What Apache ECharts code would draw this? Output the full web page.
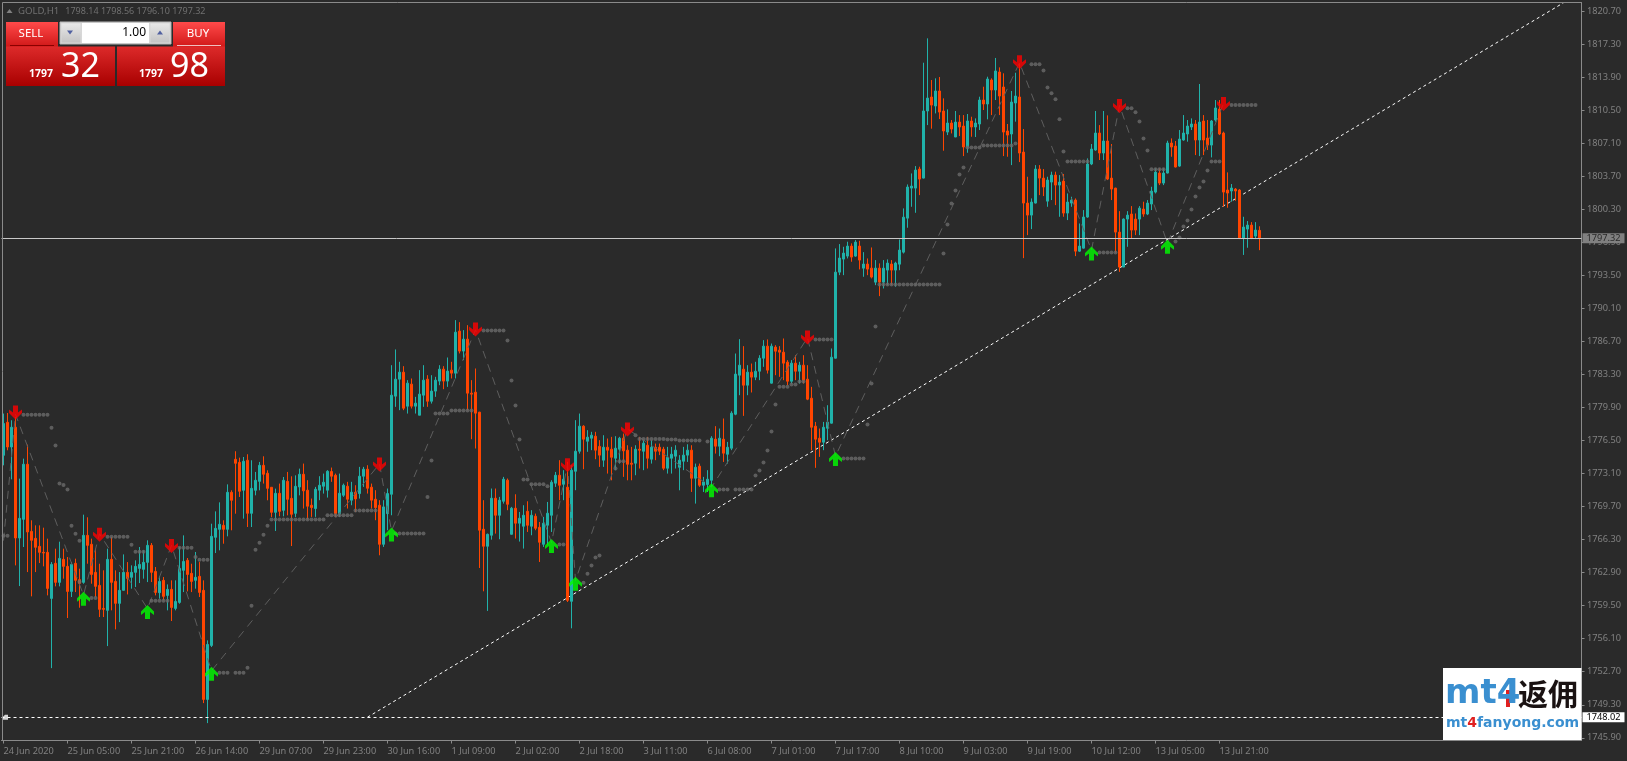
<!DOCTYPE html>
<html>
<head>
<meta charset="utf-8">
<style>html,body{margin:0;padding:0;background:#2a2a2a}#c{width:1627px;height:761px}</style>
<script src="https://cdn.jsdelivr.net/npm/echarts@6/dist/echarts.min.js"></script>
</head>
<body>
<div id="c"></div>
<script>
const xTickLabels = ['24 Jun 2020','25 Jun 05:00','25 Jun 21:00','26 Jun 14:00','29 Jun 07:00','29 Jun 23:00','30 Jun 16:00','1 Jul 09:00','2 Jul 02:00','2 Jul 18:00','3 Jul 11:00','6 Jul 08:00','7 Jul 01:00','7 Jul 17:00','8 Jul 10:00','9 Jul 03:00','9 Jul 19:00','10 Jul 12:00','13 Jul 05:00','13 Jul 21:00'];
const yTickValues = [1745.9,1749.3,1752.7,1756.1,1759.5,1762.9,1766.3,1769.7,1773.1,1776.5,1779.9,1783.3,1786.7,1790.1,1793.5,1796.9,1800.3,1803.7,1807.1,1810.5,1813.9,1817.3,1820.7];
const lastPrice = 1797.32;
const pendingPrice = 1748.02;
// open, close, low, high
const ohlc = [
[1774.98,1778.25,1773.95,1779.28],[1778.38,1775.84,1775.50,1779.34],[1775.84,1777.87,1772.51,1778.59],[1777.87,1766.47,1763.65,1778.93],[1766.47,1768.49,1761.52,1772.58],
[1768.39,1774.06,1765.54,1774.64],[1774.06,1767.09,1762.96,1776.08],[1767.15,1766.23,1760.46,1768.29],[1766.43,1765.51,1762.96,1767.77],[1765.61,1764.99,1763.89,1767.77],
[1764.99,1764.92,1763.55,1767.53],[1764.99,1761.28,1760.56,1766.40],[1760.25,1763.75,1753.07,1763.99],[1763.86,1761.90,1761.49,1765.37],[1761.90,1764.37,1761.49,1766.09],
[1764.27,1763.55,1762.28,1765.37],[1763.55,1760.97,1758.23,1764.51],[1760.97,1763.75,1760.39,1763.99],[1763.86,1762.11,1760.90,1764.34],[1762.18,1761.80,1759.29,1763.31],
[1761.90,1766.74,1761.76,1768.87],[1766.74,1765.71,1763.82,1768.60],[1765.82,1762.72,1761.76,1766.40],[1762.93,1761.49,1760.39,1765.37],[1761.59,1759.12,1758.33,1763.82],
[1759.22,1759.12,1758.33,1763.14],[1759.02,1764.27,1755.34,1765.37],[1764.27,1761.90,1759.02,1766.57],[1762.00,1759.74,1757.06,1763.14],[1759.74,1761.08,1757.81,1762.96],
[1761.08,1762.93,1761.08,1764.78],[1762.93,1762.31,1760.66,1763.99],[1762.42,1762.93,1761.25,1763.65],[1762.93,1763.55,1761.42,1764.17],[1763.34,1763.75,1761.83,1765.54],
[1763.24,1763.96,1762.28,1765.20],[1763.96,1765.71,1761.93,1766.23],[1765.71,1762.93,1761.93,1765.95],[1763.03,1760.87,1760.56,1763.48],[1760.84,1762.00,1760.22,1762.52],
[1762.11,1760.46,1760.05,1762.45],[1760.56,1761.18,1759.02,1761.69],[1761.18,1759.32,1757.92,1762.11],[1759.22,1759.94,1759.02,1762.11],[1759.84,1763.34,1759.70,1765.54],
[1763.14,1764.06,1760.90,1766.74],[1764.17,1762.72,1760.97,1764.41],[1762.83,1762.00,1760.90,1763.82],[1762.11,1762.42,1761.25,1765.03],[1762.52,1760.87,1760.39,1763.99],
[1761.08,1749.85,1749.47,1762.11],[1749.85,1755.51,1747.41,1755.93],[1755.41,1766.64,1755.24,1767.94],[1766.54,1767.46,1764.92,1769.21],[1767.36,1767.88,1765.20,1770.14],
[1767.77,1767.36,1765.88,1768.29],[1767.36,1771.17,1766.64,1771.99],[1771.17,1770.35,1767.26,1771.38],[1774.57,1774.16,1768.97,1775.40],[1774.26,1771.28,1770.69,1774.74],
[1771.38,1774.37,1768.46,1774.81],[1774.47,1769.01,1767.60,1775.09],[1769.01,1771.58,1767.60,1774.47],[1771.38,1772.41,1770.86,1773.27],[1772.30,1773.95,1771.38,1774.30],
[1773.95,1773.03,1772.07,1774.88],[1773.13,1771.58,1770.35,1773.44],[1771.69,1769.11,1768.63,1771.69],[1769.11,1771.07,1767.19,1771.55],[1771.07,1769.21,1768.70,1772.07],
[1769.32,1772.41,1768.70,1772.75],[1772.30,1770.45,1768.80,1773.27],[1770.55,1768.91,1765.64,1772.82],[1769.01,1771.79,1768.63,1772.92],[1771.72,1773.03,1770.86,1773.61],
[1773.03,1771.32,1769.50,1774.13],[1771.39,1769.74,1768.36,1772.42],[1769.84,1769.60,1768.64,1770.53],[1769.50,1771.49,1768.64,1771.73],[1771.39,1771.90,1770.36,1772.83],
[1771.80,1772.21,1771.04,1773.10],[1771.39,1773.34,1770.63,1773.45],[1773.31,1772.83,1772.25,1773.72],[1772.93,1768.98,1768.64,1773.10],[1768.98,1771.08,1768.64,1773.10],
[1770.87,1771.90,1770.70,1772.07],[1771.80,1770.46,1769.50,1772.25],[1770.36,1771.18,1769.84,1772.25],[1771.18,1770.49,1769.15,1771.90],[1771.04,1772.83,1770.53,1773.79],
[1772.83,1773.55,1771.73,1773.79],[1773.55,1771.59,1771.04,1773.96],[1771.70,1770.36,1769.50,1772.07],[1770.46,1769.60,1768.30,1771.39],[1769.84,1765.82,1764.69,1770.36],
[1765.82,1769.67,1765.55,1770.36],[1768.98,1771.04,1767.27,1771.56],[1770.97,1781.17,1768.81,1784.26],[1781.07,1782.82,1779.97,1785.88],[1782.82,1783.54,1779.63,1784.61],
[1783.54,1779.83,1779.63,1784.16],[1780.04,1782.41,1779.28,1782.72],[1782.31,1780.04,1779.80,1782.89],[1780.04,1780.35,1779.28,1781.00],[1779.11,1781.28,1779.11,1783.75],
[1781.17,1782.72,1779.97,1784.26],[1782.82,1780.55,1779.97,1783.23],[1780.55,1781.59,1780.31,1783.23],[1781.59,1782.72,1781.00,1783.06],[1782.62,1783.85,1782.20,1784.26],
[1783.85,1782.62,1781.79,1784.16],[1782.62,1783.65,1782.03,1785.05],[1783.75,1783.44,1782.89,1784.61],[1783.44,1787.66,1782.89,1788.90],[1787.77,1785.71,1785.47,1788.69],
[1785.71,1786.94,1784.78,1787.87],[1786.94,1781.38,1779.63,1788.38],[1781.38,1781.28,1776.64,1782.72],[1781.48,1779.32,1775.68,1783.92],[1779.42,1767.27,1763.38,1779.46],
[1767.37,1765.62,1760.98,1770.36],[1765.62,1766.85,1758.96,1766.92],[1766.75,1770.56,1766.30,1771.56],[1770.56,1768.81,1766.92,1771.56],[1768.81,1770.36,1766.34,1770.70],
[1770.25,1772.52,1770.01,1772.76],[1772.42,1769.94,1769.33,1772.59],[1766.85,1769.53,1766.82,1769.67],[1769.53,1767.99,1766.41,1770.97],[1767.99,1768.50,1766.10,1769.15],
[1767.68,1768.81,1765.38,1769.84],[1769.22,1767.78,1767.09,1770.25],[1767.68,1768.81,1766.75,1769.33],[1768.71,1767.47,1767.27,1768.98],[1767.57,1766.03,1764.00,1768.12],
[1765.82,1767.99,1765.55,1768.64],[1767.78,1769.02,1765.79,1770.18],[1768.81,1772.21,1767.09,1772.42],[1772.11,1772.93,1771.73,1773.27],[1772.93,1771.90,1770.36,1774.48],
[1772.00,1772.52,1770.36,1773.45],[1771.70,1760.05,1759.88,1774.31],[1759.95,1773.45,1757.17,1773.96],[1773.34,1775.40,1771.39,1778.60],[1775.40,1777.98,1775.16,1779.28],
[1777.98,1776.64,1773.55,1778.08],[1776.43,1776.85,1775.34,1777.57],[1776.74,1777.05,1775.51,1777.40],[1776.95,1775.51,1774.58,1777.40],[1775.90,1775.00,1773.79,1776.54],
[1774.48,1775.81,1773.79,1777.05],[1775.81,1775.51,1773.10,1776.71],[1775.61,1774.78,1772.41,1776.88],[1774.68,1775.71,1773.45,1776.95],[1775.61,1776.74,1774.13,1776.88],
[1776.74,1775.44,1772.76,1777.22],[1775.51,1774.06,1772.41,1776.02],[1774.17,1774.06,1772.41,1775.85],[1774.17,1775.61,1772.93,1776.02],[1775.61,1775.51,1773.62,1776.88],
[1775.40,1776.23,1773.45,1776.54],[1776.02,1774.68,1773.62,1776.88],[1774.58,1775.81,1774.13,1776.54],[1775.81,1775.40,1774.48,1776.19],[1775.81,1775.40,1775.00,1776.19],
[1775.61,1773.65,1773.45,1775.85],[1773.65,1774.78,1773.10,1775.85],[1774.68,1775.09,1773.10,1775.85],[1774.89,1775.51,1773.62,1776.02],[1773.75,1774.48,1771.38,1775.00],
[1774.37,1775.00,1773.45,1775.85],[1775.00,1775.51,1774.30,1776.12],[1775.51,1772.62,1771.21,1776.02],[1772.62,1773.75,1770.01,1774.13],[1773.86,1771.90,1771.73,1774.13],
[1771.90,1772.24,1771.21,1772.76],[1771.97,1772.52,1771.21,1773.45],[1772.41,1776.74,1771.73,1776.95],[1776.64,1775.92,1775.16,1777.98],[1775.92,1776.74,1774.89,1777.74],
[1776.64,1775.20,1774.30,1778.77],[1775.09,1775.81,1774.13,1776.36],[1775.71,1779.32,1775.51,1779.52],[1779.21,1783.34,1779.11,1785.46],[1783.23,1784.26,1781.17,1786.94],
[1783.85,1782.20,1779.04,1786.22],[1782.20,1783.54,1781.17,1784.26],[1783.54,1783.03,1781.45,1784.43],[1783.03,1783.64,1782.72,1784.61],[1783.64,1784.98,1782.72,1785.29],
[1784.98,1786.22,1784.09,1786.84],[1786.22,1783.75,1783.40,1786.91],[1782.41,1786.22,1782.37,1786.49],[1786.12,1785.70,1783.23,1786.32],[1785.81,1785.60,1783.06,1786.22],
[1785.60,1784.47,1782.72,1787.01],[1784.57,1782.61,1782.20,1784.78],[1782.61,1784.47,1782.37,1784.78],[1784.47,1783.64,1782.72,1785.29],[1783.64,1784.26,1782.37,1784.61],
[1784.26,1782.72,1782.37,1785.29],[1782.82,1780.76,1780.66,1784.26],[1780.86,1777.87,1775.51,1782.03],[1777.98,1776.64,1773.69,1778.42],[1776.74,1776.33,1774.82,1777.74],
[1776.33,1777.87,1775.51,1778.42],[1777.77,1778.39,1776.54,1780.14],[1778.29,1785.08,1778.25,1785.98],[1784.98,1793.84,1784.95,1796.28],[1793.84,1795.29,1793.53,1796.73],
[1795.18,1795.80,1793.53,1796.45],[1795.49,1796.52,1795.25,1796.97],[1796.52,1795.39,1794.91,1796.80],[1795.49,1796.93,1795.42,1797.14],[1796.52,1795.08,1794.12,1797.07],
[1794.25,1794.67,1793.36,1795.90],[1794.67,1794.15,1793.53,1795.25],[1794.25,1793.33,1793.19,1796.38],[1792.81,1794.25,1792.50,1795.08],[1794.25,1792.81,1791.37,1794.74],
[1792.81,1794.25,1792.16,1795.08],[1794.05,1794.77,1792.50,1795.15],[1794.67,1794.05,1792.50,1795.08],[1794.05,1794.77,1792.33,1794.91],[1794.66,1796.11,1794.04,1797.20],
[1795.90,1799.50,1795.76,1800.40],[1799.40,1802.60,1798.41,1802.87],[1802.49,1802.70,1800.57,1804.00],[1802.49,1804.35,1799.95,1804.76],[1804.45,1803.42,1801.77,1804.69],
[1803.52,1810.43,1803.49,1815.40],[1810.43,1811.76,1808.98,1817.91],[1811.87,1811.04,1808.61,1813.62],[1810.94,1812.49,1810.18,1813.79],[1812.49,1810.32,1809.60,1813.93],
[1810.43,1808.37,1806.34,1811.73],[1808.26,1809.19,1807.95,1810.60],[1809.19,1808.57,1808.12,1809.50],[1807.75,1809.29,1807.75,1810.43],[1809.29,1808.78,1807.85,1810.01],
[1808.88,1806.72,1805.79,1810.01],[1806.72,1809.40,1806.13,1810.12],[1809.40,1808.78,1807.78,1809.84],[1808.78,1809.19,1807.75,1809.67],[1809.09,1811.56,1808.47,1811.90],
[1811.56,1811.15,1810.53,1812.93],[1811.15,1813.72,1809.57,1813.96],[1813.62,1812.59,1810.01,1813.79],[1812.59,1814.55,1811.56,1815.89],[1814.44,1811.97,1810.01,1814.92],
[1812.90,1808.26,1805.79,1814.31],[1808.37,1807.95,1805.72,1809.09],[1808.06,1811.35,1804.86,1812.49],[1811.25,1811.97,1809.33,1814.37],[1811.87,1806.10,1805.17,1815.34],
[1806.20,1800.95,1795.28,1808.57],[1800.95,1799.71,1797.65,1803.66],[1799.71,1801.05,1798.27,1801.43],[1800.95,1804.45,1800.91,1804.86],[1804.45,1803.52,1801.77,1804.86],
[1803.52,1802.60,1801.67,1804.45],[1801.15,1803.32,1800.57,1803.66],[1803.11,1803.83,1801.26,1804.18],[1803.83,1802.80,1800.74,1804.18],[1802.80,1803.11,1799.54,1803.83],
[1803.21,1799.92,1799.54,1803.94],[1799.92,1801.05,1799.20,1801.94],[1800.95,1801.26,1800.57,1801.60],[1801.26,1796.00,1795.49,1801.43],[1796.00,1796.52,1795.93,1798.85],
[1796.31,1799.51,1796.28,1800.23],[1799.51,1804.97,1799.44,1805.55],[1804.97,1806.51,1804.86,1807.03],[1806.41,1808.16,1806.34,1810.43],[1808.16,1806.10,1805.38,1808.98],
[1806.10,1807.34,1805.38,1810.43],[1807.34,1803.42,1803.32,1809.98],[1803.52,1802.39,1801.26,1807.03],[1802.49,1797.96,1795.83,1802.53],[1797.96,1794.36,1793.87,1800.12],
[1794.36,1799.30,1794.36,1799.37],[1799.30,1799.71,1796.45,1800.12],[1799.82,1798.17,1797.31,1800.64],[1799.30,1798.17,1797.65,1799.88],[1799.30,1800.43,1797.65,1800.64],
[1800.33,1799.82,1799.54,1801.09],[1799.82,1800.95,1799.71,1801.26],[1800.85,1802.18,1800.23,1802.63],[1802.08,1804.14,1801.94,1804.52],[1804.04,1803.01,1802.80,1804.52],
[1803.01,1804.04,1802.80,1804.52],[1804.04,1807.13,1804.00,1807.37],[1807.13,1806.72,1805.72,1807.61],[1806.82,1804.66,1804.62,1807.34],[1804.76,1807.54,1804.69,1808.47],
[1807.44,1808.16,1807.37,1810.01],[1808.06,1808.88,1807.27,1809.50],[1808.78,1809.09,1808.47,1809.67],[1809.09,1807.44,1805.89,1809.50],[1807.44,1809.29,1805.79,1813.21],
[1809.40,1807.44,1805.89,1810.01],[1807.64,1806.92,1806.41,1809.50],[1806.92,1809.40,1805.65,1809.50],[1809.50,1810.74,1809.33,1811.56],[1810.63,1808.06,1807.95,1811.56],
[1808.16,1802.08,1800.57,1808.30],[1802.29,1801.98,1800.47,1804.11],[1802.19,1802.50,1801.09,1802.91],[1802.39,1802.19,1801.19,1802.50],[1802.29,1797.31,1797.24,1802.39],
[1797.31,1798.48,1795.61,1799.54],[1798.27,1798.68,1796.35,1799.10],[1798.68,1797.31,1797.24,1798.99],[1797.55,1798.17,1797.24,1798.99],[1798.14,1797.32,1796.10,1798.56]
];
const downArrows = [[3,1779.38],[24,1766.81],[42,1765.64],[94,1774.03],[118,1787.94],[141,1773.96],[156,1777.63],[201,1787.11],[254,1815.44],[279,1810.94],[305,1811.15]];
const upArrows = [[20,1760.22],[36,1758.84],[52,1752.49],[97,1766.82],[137,1765.65],[143,1761.77],[177,1771.38],[208,1774.61],[272,1795.76],[291,1796.45]];
const zigzag = [[0,1766.2],[3,1779.2],[20,1760.6],[24,1766.9],[36,1759.2],[42,1765.7],[52,1752.8],[94,1774.1],[97,1767.2],[118,1787.9],[137,1766.0],[141,1774.0],[143,1762.1],[156,1777.7],[177,1771.7],[201,1787.1],[208,1774.9],[254,1815.4],[272,1796.1],[279,1811.0],[291,1796.8],[305,1811.2]];
// first bar, last bar, price of the stop dots
const dotRuns = [[0,1,1766.71],[5,11,1779.17],[12,12,1777.83],[13,13,1775.98],[14,14,1772.07],[15,15,1771.93],[16,16,1771.45],[17,17,1767.74],[18,18,1766.91],[19,19,1766.19],[19,19,1761.97],[22,23,1760.28],[26,31,1766.60],[32,32,1765.78],[33,35,1765.06],[37,41,1760.01],[44,47,1765.47],[48,48,1764.51],[49,51,1764.24],[54,56,1752.59],[58,60,1752.59],[61,61,1753.11],[62,62,1759.50],[63,63,1765.26],[64,64,1765.99],[65,65,1766.81],[66,66,1767.74],[67,80,1768.36],[81,87,1768.81],[88,93,1769.29],[98,105,1766.92],[106,106,1770.70],[107,107,1774.44],[108,111,1779.28],[112,117,1779.59],[120,125,1787.84],[126,126,1786.80],[127,127,1782.68],[128,128,1780.11],[129,129,1776.61],[130,131,1772.49],[132,135,1772.00],[136,136,1771.80],[139,140,1765.79],[145,145,1761.87],[146,146,1762.80],[147,147,1763.63],[148,148,1764.45],[149,149,1764.66],[153,153,1773.62],[154,155,1774.37],[158,158,1777.05],[159,165,1776.67],[166,168,1776.60],[169,174,1776.50],[176,176,1776.40],[179,181,1771.45],[183,187,1771.45],[188,188,1772.90],[189,189,1773.41],[190,190,1774.24],[191,191,1775.47],[192,192,1777.43],[193,193,1780.21],[194,196,1782.03],[197,198,1782.27],[199,200,1782.58],[203,207,1786.91],[210,215,1774.65],[216,216,1778.15],[217,217,1782.37],[218,218,1788.25],[219,234,1792.57],[235,235,1795.76],[236,236,1798.75],[237,237,1800.91],[238,238,1802.25],[239,239,1803.90],[240,240,1804.62],[241,244,1806.68],[245,252,1806.89],[253,253,1807.09],[257,259,1815.23],[260,260,1814.61],[261,261,1812.86],[262,262,1812.25],[263,263,1811.63],[264,264,1809.57],[265,265,1806.27],[266,271,1805.24],[274,278,1795.87],[281,282,1810.70],[283,283,1810.29],[284,284,1809.36],[285,285,1807.61],[286,286,1806.37],[287,290,1804.42],[293,293,1796.99],[294,294,1797.41],[295,295,1798.54],[296,296,1799.16],[297,297,1800.30],[298,298,1801.63],[299,299,1802.56],[300,300,1803.18],[301,301,1804.31],[302,304,1805.24],[307,313,1811.04]];
const trendLine = [[91,1748.02],[390,1821.57]];
const headerText = 'GOLD,H1';
const headerOhlc = '1798.14 1798.56 1796.10 1797.32';

const BAR_SLOTS = 395, TICK_STEP = 16;
const categories = [];
for (let i = 0; i < BAR_SLOTS; i++) categories.push(i % TICK_STEP === 0 && xTickLabels[i / TICK_STEP] ? xTickLabels[i / TICK_STEP] : '');
const dots = [];
dotRuns.forEach(r => { for (let i = r[0]; i <= r[1]; i++) dots.push([i, r[2]]); });
const showTick = i => categories[i] !== '';

const GREY = '#808080', AXIS = '#8a8a8a', FONT = '"Noto Sans", sans-serif';
const UP = '#20B2AA', DOWN = '#FF4500';
const ARROW = 'path://M6.5 0 L13 6.5 L13 10 L9 7 L9 14 L4 14 L4 7 L0 10 L0 6.5 Z';

function grad(a, b) { return {type:'linear',x:0,y:0,x2:0,y2:1,colorStops:[{offset:0,color:a},{offset:1,color:b}]}; }
function rect(x,y,w,h,fill,stroke) { return {type:'rect',shape:{x,y,width:w,height:h},style:{fill,stroke:stroke||null,lineWidth:stroke?1:0},z:100,silent:true}; }
function txt(x,y,t,size,color,opts) {
  return {type:'text',x,y,z:101,silent:true,style:Object.assign({text:t,fontSize:size,fill:color,fontFamily:FONT,verticalAlign:'middle',align:'left'},opts||{})};
}
function tri(x,y,up,color) {
  const p = up ? [[x-3,y+2],[x+3,y+2],[x,y-2]] : [[x-3,y-2],[x+3,y-2],[x,y+2]];
  return {type:'polygon',shape:{points:p},style:{fill:color},z:102,silent:true};
}
const CJK = '"Noto Sans CJK SC", sans-serif';
const graphics = [
  {type:'line',shape:{x1:2.5,y1:2.5,x2:1581.5,y2:2.5},style:{stroke:AXIS,lineWidth:1},z:50,silent:true},
  {type:'line',shape:{x1:2.5,y1:2.5,x2:2.5,y2:740.5},style:{stroke:AXIS,lineWidth:1},z:50,silent:true},
  tri(9.5,11,true,GREY),
  txt(18,11,headerText,9.6,'#707070'),
  txt(65.3,11,headerOhlc,9,'#707070'),
  rect(6,22,52,25,grad('#ff4a4a','#d01818')),
  rect(173,22,52,25,grad('#ff4a4a','#d01818')),
  rect(10,45,44,1,'#8a0000'),
  rect(177,45,44,1,'#f0c0c0'),
  txt(31,33.5,'SELL',11.5,'#ffffff',{align:'center'}),
  txt(198,33.5,'BUY',11.5,'#ffffff',{align:'center'}),
  rect(60,22,111,22,'#d8d8d8','#b8b8b8'),
  rect(61.5,23.5,19,19,grad('#e8e8e8','#c4c4c4')),
  rect(150.5,23.5,19,19,grad('#e8e8e8','#c4c4c4')),
  rect(82,23,67,20,'#ffffff'),
  tri(70,32.5,false,'#5060a0'),
  tri(160,32.5,true,'#5060a0'),
  txt(146,32.5,'1.00',12,'#000000',{align:'right'}),
  rect(6,46.5,109,39.5,grad('#dd2a2a','#a80000')),
  rect(117,46.5,108,39.5,grad('#dd2a2a','#a80000')),
  txt(29,74,'1797',10.5,'#ffffff',{fontWeight:'bold'}),
  txt(139,74,'1797',10.5,'#ffffff',{fontWeight:'bold'}),
  txt(61,67.5,'32',34,'#ffffff'),
  txt(170,67.5,'98',34,'#ffffff'),
  rect(1443,668,138.5,72,'#ffffff'),
  {type:'text',x:1445,y:694,z:101,silent:true,style:{text:'{a|mt}{b|4}',rich:{a:{fontSize:34,fontWeight:'bold',fill:'#3a8fd0',fontFamily:'"DejaVu Sans"'},b:{fontSize:34,fontWeight:'bold',fill:'#3a8fd0',fontFamily:'"DejaVu Sans"'}},verticalAlign:'middle',align:'left'}},
  rect(1506,690,4,17,'#e02020'),
  txt(1518,694,'返佣',30,'#1a1212',{fontFamily:CJK,fontWeight:'bold'}),
  {type:'text',x:1446,y:723,z:101,silent:true,style:{text:'{a|mt}{r|4}{a|fanyong.com}',rich:{a:{fontSize:14,fontWeight:'bold',fill:'#3a8fd0',fontFamily:'"DejaVu Sans"'},r:{fontSize:14,fontWeight:'bold',fill:'#e02020',fontFamily:'"DejaVu Sans"'}},verticalAlign:'middle',align:'left'}}
];

const chart = echarts.init(document.getElementById('c'), null, {width:1627,height:761,renderer:'canvas'});
chart.setOption({
  animation:false,
  backgroundColor:'#2a2a2a',
  graphic:{elements:graphics},
  grid:{left:1.5,top:2.5,width:1580,height:738,containLabel:false},
  xAxis:{
    type:'category',data:categories,boundaryGap:true,
    axisLine:{show:true,lineStyle:{color:AXIS,width:1}},
    axisTick:{show:true,alignWithLabel:true,interval:showTick,length:3,lineStyle:{color:AXIS}},
    axisLabel:{show:true,interval:showTick,align:'left',color:GREY,fontFamily:FONT,fontSize:9.2,margin:6},
    splitLine:{show:false}
  },
  yAxis:{
    type:'value',position:'right',scale:true,min:1745.62,max:1821.6,
    axisLine:{show:true,lineStyle:{color:AXIS,width:1}},
    axisTick:{show:true,customValues:yTickValues,length:3,lineStyle:{color:AXIS}},
    axisLabel:{show:true,customValues:yTickValues,color:GREY,fontFamily:FONT,fontSize:9.2,margin:5.5,padding:[2,0,0,0],formatter:v=>v.toFixed(2)},
    splitLine:{show:false}
  },
  series:[
    {type:'line',name:'price',z:1,data:[],silent:true,
     markLine:{silent:true,symbol:'none',animation:false,
      data:[{yAxis:lastPrice,lineStyle:{color:'#c8c8c8',width:1,type:'solid'},
        label:{show:true,position:'end',distance:1,formatter:lastPrice.toFixed(2),color:'#2a2a2a',backgroundColor:'#808080',padding:[1,4,0,4],fontFamily:FONT,fontSize:9.2}},
       {yAxis:pendingPrice,lineStyle:{color:'#ffffff',width:1,type:[3,3]},
        label:{show:true,position:'end',distance:1,formatter:pendingPrice.toFixed(2),color:'#000000',backgroundColor:'#ffffff',padding:[1,4,0,4],fontFamily:FONT,fontSize:9.2}}]}},
    {type:'line',name:'trend',z:1,data:trendLine,showSymbol:false,silent:true,clip:true,lineStyle:{color:'#ffffff',width:1,type:[3,3]}},
    {type:'candlestick',name:'GOLD',z:2,data:ohlc,barWidth:2,silent:true,clip:false,
     itemStyle:{color:UP,color0:DOWN,borderColor:UP,borderColor0:DOWN,borderWidth:1}},
    {type:'line',name:'zigzag',z:3,data:zigzag,showSymbol:false,silent:true,lineStyle:{color:'#5e5e5e',width:1,type:[8,6]}},
    {type:'scatter',name:'stops',z:3,data:dots,symbol:'circle',symbolSize:4,silent:true,itemStyle:{color:'#6a6a6a'}},
    {type:'scatter',name:'sell',z:5,data:downArrows,symbol:ARROW,symbolRotate:180,symbolSize:[13,14],silent:true,itemStyle:{color:'#ff0000'}},
    {type:'scatter',name:'buy',z:5,data:upArrows,symbol:ARROW,symbolSize:[13,14],silent:true,itemStyle:{color:'#00ff00'}},
    {type:'scatter',name:'pending',z:5,data:[[0,pendingPrice]],symbol:'path://M0 3 L3 0 L6 0 L6 5 L0 5 Z',symbolSize:[6,5],symbolOffset:[1.5,0],silent:true,itemStyle:{color:'#ffffff'}}
  ]
});
</script>
</body>
</html>
